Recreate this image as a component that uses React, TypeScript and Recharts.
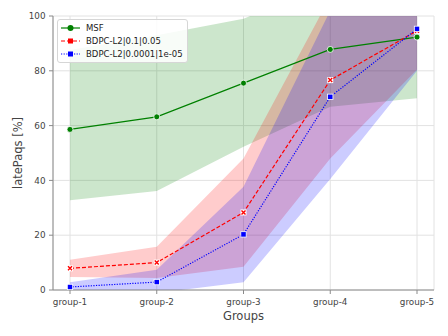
import React from 'react';
import {
  ComposedChart,
  Area,
  Line,
  XAxis,
  YAxis,
  CartesianGrid,
  Legend,
} from 'recharts';

const groups = ['group-1', 'group-2', 'group-3', 'group-4', 'group-5'];
const yTicks = [0, 20, 40, 60, 80, 100];

const msfMean = [58.6, 63.2, 75.5, 87.8, 92.3];
const msfLow = [32.8, 36.1, 52.3, 66.9, 70.0];
const msfHigh = [87.6, 93.0, 99.0, 112, 114];

const bdpcAMean = [7.9, 10.0, 28.3, 76.6, 94.6];
const bdpcALow = [4.7, 4.4, 8.5, 48.0, 80.5];
const bdpcAHigh = [11.0, 15.8, 48.0, 107, 118];

const bdpcBMean = [1.1, 2.9, 20.3, 70.5, 95.3];
const bdpcBLow = [-1.0, -1.1, 2.8, 40.5, 80.0];
const bdpcBHigh = [2.8, 7.4, 37.7, 102, 111];

const seriesNames = ['MSF', 'BDPC-L2|0.1|0.05', 'BDPC-L2|0.0001|1e-05'];

const rows = groups.map((g, i) => ({
  group: g,
  msf: msfMean[i],
  msfBand: [msfLow[i], msfHigh[i]],
  bdpcA: bdpcAMean[i],
  bdpcABand: [bdpcALow[i], bdpcAHigh[i]],
  bdpcB: bdpcBMean[i],
  bdpcBBand: [bdpcBLow[i], bdpcBHigh[i]],
}));

const FONT = '"DejaVu Sans", sans-serif';
const SPINE = '#8a8a8a';
const TEXT = '#444';

const series = [
  { key: 'msf', band: 'msfBand', name: seriesNames[0], color: 'green', dash: undefined, marker: 'circle' },
  { key: 'bdpcA', band: 'bdpcABand', name: seriesNames[1], color: 'red', dash: '4 2', marker: 'x' },
  { key: 'bdpcB', band: 'bdpcBBand', name: seriesNames[2], color: 'blue', dash: '1.2 1.4', marker: 'square' },
];

function Marker({ kind, color, cx, cy }: { kind: string; color: string; cx: number; cy: number }) {
  if (kind === 'circle') {
    return <circle cx={cx} cy={cy} r={3} fill={color} stroke="#fff" strokeWidth={0.8} />;
  }
  if (kind === 'x') {
    return (
      <g>
        <rect x={cx - 3} y={cy - 3} width={6} height={6} fill="#fff" />
        <path
          d={`M${cx - 2},${cy - 2}L${cx + 2},${cy + 2}M${cx - 2},${cy + 2}L${cx + 2},${cy - 2}`}
          stroke={color}
          strokeWidth={1.4}
        />
      </g>
    );
  }
  return <rect x={cx - 2.7} y={cy - 2.7} width={5.4} height={5.4} fill={color} stroke="#fff" strokeWidth={0.8} />;
}

function LegendBox() {
  return (
    <div
      style={{
        background: 'rgba(255,255,255,0.85)',
        border: '1px solid #d6d6d6',
        borderRadius: 3,
        padding: '1px 4px 1px 2px',
        fontFamily: FONT,
        fontSize: 8.5,
        color: '#222',
        whiteSpace: 'nowrap',
      }}
    >
      {series.map((s) => (
        <div key={s.key} style={{ display: 'flex', alignItems: 'center', height: 13.3 }}>
          <svg width={22} height={10} style={{ marginRight: 4 }}>
            <line x1={1} y1={5} x2={20} y2={5} stroke={s.color} strokeWidth={1.2} strokeDasharray={s.dash} />
            {s.marker === 'circle' ? (
              <circle cx={10.5} cy={5} r={3} fill={s.color} />
            ) : (
              <rect x={8} y={2.5} width={5} height={5} fill={s.color} />
            )}
          </svg>
          <span>{s.name}</span>
        </div>
      ))}
    </div>
  );
}

export default function App() {
  return (
    <div style={{ width: 448, height: 336 }}>
      <style>{'body{margin:0}'}</style>
      <ComposedChart
        width={448}
        height={336}
        data={rows}
        margin={{ top: 16, right: 14, bottom: 0, left: 0 }}
        style={{ fontFamily: FONT }}
      >
        <CartesianGrid stroke="#e2e2e2" strokeWidth={1} />
        <XAxis
          dataKey="group"
          padding={{ left: 17, right: 17 }}
          interval={0}
          height={46}
          tickSize={4}
          tickMargin={5}
          tick={{ fontSize: 8.8, fill: TEXT }}
          tickLine={{ stroke: SPINE }}
          axisLine={{ stroke: SPINE }}
          label={{ value: 'Groups', position: 'insideBottom', offset: 16, fontSize: 11.5, fill: TEXT }}
        />
        <XAxis
          xAxisId="top"
          orientation="top"
          dataKey="group"
          height={0}
          tick={false}
          tickLine={false}
          axisLine={{ stroke: SPINE }}
        />
        <YAxis
          domain={[0, 100]}
          ticks={yTicks}
          allowDataOverflow
          width={53}
          tickSize={4}
          tickMargin={3.5}
          tick={{ fontSize: 8.8, fill: TEXT }}
          tickLine={{ stroke: SPINE }}
          axisLine={{ stroke: SPINE }}
          label={{
            content: (props: any) => {
              const vb = props.viewBox;
              const cx = 18;
              const cy = vb.y + vb.height / 2;
              return (
                <text
                  x={cx}
                  y={cy}
                  transform={`rotate(-90 ${cx} ${cy})`}
                  textAnchor="middle"
                  dominantBaseline="central"
                  fontSize={11.5}
                  fill={TEXT}
                  fontFamily={FONT}
                >
                  latePaqs [%]
                </text>
              );
            },
          }}
        />
        <YAxis
          yAxisId="right"
          orientation="right"
          domain={[0, 100]}
          width={0}
          tick={false}
          tickLine={false}
          axisLine={{ stroke: SPINE }}
        />
        {series.map((s) => (
          <Area
            key={s.band}
            type="linear"
            dataKey={s.band}
            stroke="none"
            fill={s.color}
            fillOpacity={0.2}
            dot={false}
            activeDot={false}
            legendType="none"
            isAnimationActive={false}
          />
        ))}
        {series.map((s) => (
          <Line
            key={s.key}
            type="linear"
            dataKey={s.key}
            name={s.name}
            stroke={s.color}
            strokeWidth={1.2}
            strokeDasharray={s.dash}
            dot={(p: any) => <Marker key={`${s.key}-${p.index}`} kind={s.marker} color={s.color} cx={p.cx} cy={p.cy} />}
            activeDot={false}
            isAnimationActive={false}
          />
        ))}
        <Legend
          layout="vertical"
          verticalAlign="middle"
          align="center"
          wrapperStyle={{ left: 57, top: 19, width: 'auto' }}
          content={() => <LegendBox />}
        />
      </ComposedChart>
    </div>
  );
}
